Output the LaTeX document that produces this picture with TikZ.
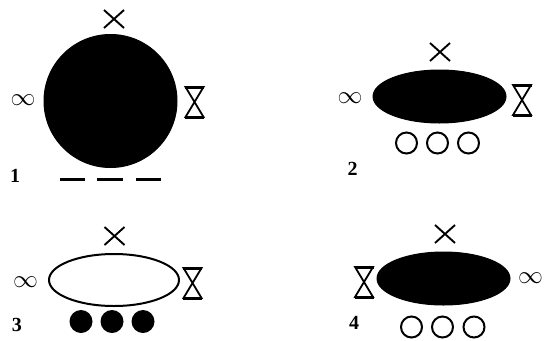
\documentclass[tikz,border=0pt]{standalone}
\usepackage{fontspec}
\setmainfont{Liberation Serif}
\begin{document}
\begin{tikzpicture}[x=1pt,y=-1pt,
  blob/.style={fill=black,draw=black,line width=1pt},
  hollow/.style={draw=black,line width=2pt,fill=white},
  ring/.style={draw=black,line width=2pt,circle,minimum size=21pt,inner sep=0pt},
  dot/.style={fill=black,circle,minimum size=23pt,inner sep=0pt},
  num/.style={font=\fontsize{20}{20}\selectfont\bfseries,inner sep=0pt},
  inf/.style={font=\fontsize{28}{28}\selectfont,inner sep=0pt},
  xm/.style={line width=1.9pt},
  hg/.style={line width=1.8pt,line join=miter},
  dashbar/.style={line width=3pt}]
\useasboundingbox (0,0) rectangle (545,340);
\newcommand{\xmark}[2]{\draw[xm] (#1-10,#2-9) -- (#1+10,#2+9) (#1-10,#2+9) -- (#1+10,#2-9);}
\newcommand{\hglass}[2]{%
  \draw[hg] (#1-9,#2-15) -- (#1+9,#2-15) -- (#1-9,#2+15) -- (#1+9,#2+15) -- cycle;
  \draw[line width=3pt] (#1-9.5,#2-15) -- (#1+9.5,#2-15) (#1-9.5,#2+15) -- (#1+9.5,#2+15);}
% panel 1
\fill[blob] (110.5,101) circle (66.5);
\xmark{114}{19}
\node[inf] (i1) at (23,100) {$\infty$};
\hglass{194.5}{102}
\node[num] (n1) at (15,176) {1};
\draw[dashbar] (60,179) -- (85,179) (97,179) -- (123,179) (136,179) -- (161,179);
% panel 2
\fill[blob] (439.5,96.5) ellipse (66.5 and 26.5);
\xmark{440}{52}
\node[inf] (i2) at (350,98) {$\infty$};
\hglass{522}{100}
\node[num] (n2) at (352.5,169) {2};
\node[ring] (r21) at (406.5,143) {};
\node[ring] (r22) at (437.5,143) {};
\node[ring] (r23) at (468.5,143) {};
% panel 3
\draw[hollow] (114,280) ellipse (65 and 26);
\xmark{114.5}{236}
\node[inf] (i3) at (25.5,282) {$\infty$};
\hglass{192.5}{283}
\node[num] (n3) at (17,325) {3};
\node[dot] (d31) at (81,321.5) {};
\node[dot] (d32) at (112,321.5) {};
\node[dot] (d33) at (143,321.5) {};
% panel 4
\fill[blob] (443.5,278.5) ellipse (66.5 and 26.5);
\xmark{445}{234}
\hglass{364}{282}
\node[inf] (i4) at (530.5,278) {$\infty$};
\node[num] (n4) at (354,323) {4};
\node[ring] (r41) at (411.5,327) {};
\node[ring] (r42) at (442.5,327) {};
\node[ring] (r43) at (474,327) {};
\end{tikzpicture}
\end{document}
